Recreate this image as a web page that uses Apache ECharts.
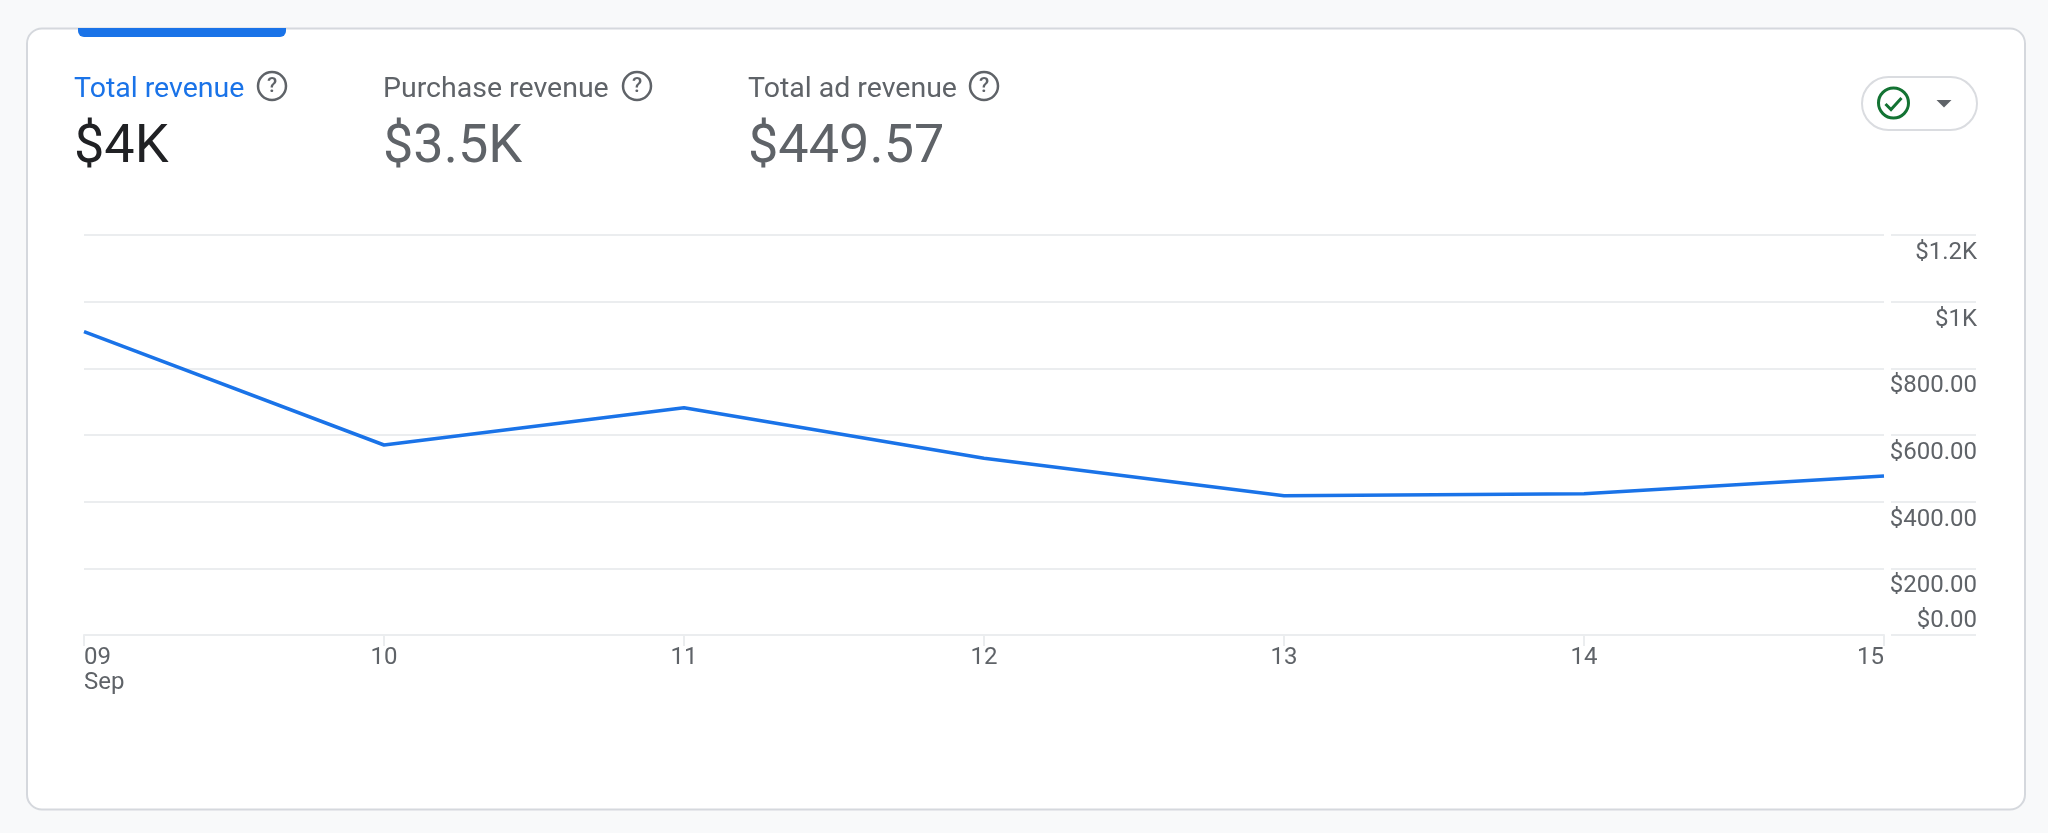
<!DOCTYPE html>
<html>
<head>
<meta charset="utf-8">
<style>html,body{margin:0;padding:0;background:#f8f9fa}#c{width:2048px;height:833px}</style>
<script src="https://cdn.jsdelivr.net/npm/echarts@6/dist/echarts.min.js"></script>
</head>
<body>
<div id="c"></div>
<script>
const categories = ['09\nSep', '10', '11', '12', '13', '14', '15'];
const revenue = [910, 570, 682, 530, 418, 424, 477];
const yTickValues = [0, 200, 400, 600, 800, 1000, 1200];
const yTickLabels = ['$0.00', '$200.00', '$400.00', '$600.00', '$800.00', '$1K', '$1.2K'];
const metricNames = ['Total revenue', 'Purchase revenue', 'Total ad revenue'];
const metricValues = ['$4K', '$3.5K', '$449.57'];
const metricColors = ['#1a73e8', '#5f6368', '#5f6368'];
const metricValueColors = ['#202124', '#5f6368', '#5f6368'];
const metricX = [74, 383, 748];
const helpX = [272, 637, 984];

const FONT = 'Roboto';
const GRID_COLOR = '#ebedef';
const LABEL_COLOR = '#5f6368';
const yMax = 1200;
const labelOf = v => yTickLabels[yTickValues.indexOf(v)] || '';

const graphics = [
  { type: 'rect', z: -10, shape: { x: 27, y: 28.5, width: 1998, height: 781, r: 15 },
    style: { fill: '#ffffff', stroke: '#d5d8dd', lineWidth: 2 } },
  { type: 'rect', z: -9, shape: { x: 78, y: 28, width: 208, height: 9, r: [0, 0, 6, 6] },
    style: { fill: '#1a73e8' } },
  { type: 'rect', z: -9, shape: { x: 1862, y: 77, width: 115, height: 53, r: 26.5 },
    style: { fill: '#ffffff', stroke: '#dadce0', lineWidth: 2 } },
  { type: 'circle', shape: { cx: 1893.5, cy: 103, r: 15 },
    style: { fill: 'none', stroke: '#137333', lineWidth: 3 } },
  { type: 'polyline', shape: { points: [[1885.5, 104], [1891, 109.5], [1901.5, 98]] },
    style: { fill: 'none', stroke: '#137333', lineWidth: 3 } },
  { type: 'polygon', shape: { points: [[1936.5, 100], [1951.5, 100], [1944, 107.5]] },
    style: { fill: '#5f6368' } }
];
metricNames.forEach((name, i) => {
  graphics.push({ type: 'text', x: metricX[i], y: 90,
    style: { text: name, fill: metricColors[i], font: `400 28.5px ${FONT}`, textVerticalAlign: 'middle' } });
  graphics.push({ type: 'text', x: metricX[i], y: 148,
    style: { text: metricValues[i], fill: metricValueColors[i], font: `400 54px ${FONT}`, textVerticalAlign: 'middle' } });
  graphics.push({ type: 'circle', shape: { cx: helpX[i], cy: 86, r: 14 },
    style: { fill: 'none', stroke: '#5f6368', lineWidth: 2.5 } });
  graphics.push({ type: 'text', x: helpX[i], y: 87,
    style: { text: '?', fill: '#5f6368', font: `500 21px ${FONT}`, textAlign: 'center', textVerticalAlign: 'middle' } });
});

const chart = echarts.init(document.getElementById('c'));
chart.setOption({
  backgroundColor: '#f8f9fa',
  animation: false,
  graphic: graphics,
  grid: [
    { left: 84, top: 235, width: 1800, height: 400 },
    { left: 1891, top: 235, width: 85, height: 400 }
  ],
  xAxis: [
    { type: 'category', gridIndex: 0, data: categories, boundaryGap: false,
      axisLine: { show: true, lineStyle: { color: GRID_COLOR, width: 2 } },
      axisTick: { show: true, length: 11, lineStyle: { color: GRID_COLOR, width: 2 } },
      axisLabel: { show: true, interval: 0, color: LABEL_COLOR, fontFamily: FONT, fontSize: 24,
        lineHeight: 25, margin: 10, alignMinLabel: 'left', alignMaxLabel: 'right', verticalAlign: 'top' },
      splitLine: { show: false } },
    { type: 'category', gridIndex: 1, data: categories, boundaryGap: false, show: false }
  ],
  yAxis: [
    { type: 'value', gridIndex: 0, min: 0, max: yMax, interval: 200,
      axisLine: { show: false }, axisTick: { show: false }, axisLabel: { show: false },
      splitLine: { show: true, lineStyle: { color: GRID_COLOR, width: 2 } } },
    { type: 'value', gridIndex: 1, min: 0, max: yMax, interval: 200, position: 'right',
      axisLine: { show: false }, axisTick: { show: false },
      axisLabel: { show: true, inside: true, margin: -1, color: LABEL_COLOR, fontFamily: FONT, fontSize: 24,
        align: 'right', verticalAlign: 'top', padding: [6, 0, 0, 0],
        hideOverlap: false, showMinLabel: true, showMaxLabel: true,
        formatter: v => (v === 0 ? '' : labelOf(v)) },
      splitLine: { show: true, lineStyle: { color: GRID_COLOR, width: 2 } } },
    { type: 'value', gridIndex: 1, min: 0, max: yMax, interval: 200, position: 'right',
      axisLine: { show: false }, axisTick: { show: false }, splitLine: { show: false },
      axisLabel: { show: true, inside: true, margin: -1, color: LABEL_COLOR, fontFamily: FONT, fontSize: 24,
        align: 'right', verticalAlign: 'bottom', padding: [0, 0, 2, 0],
        hideOverlap: false, showMinLabel: true,
        formatter: v => (v === 0 ? labelOf(v) : '') } }
  ],
  series: [{
    type: 'line', xAxisIndex: 0, yAxisIndex: 0, data: revenue,
    showSymbol: false, smooth: false, silent: true,
    lineStyle: { color: '#1a73e8', width: 3.5 }
  }]
});
</script>
</body>
</html>
